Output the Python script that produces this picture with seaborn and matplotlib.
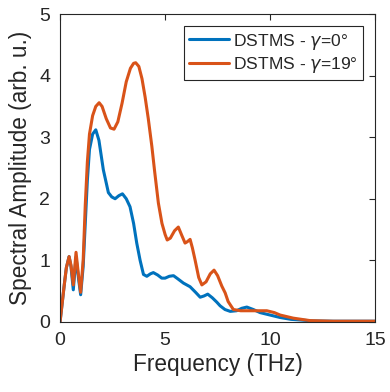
import numpy as np
import pandas as pd
import matplotlib
matplotlib.use("Agg")
import matplotlib.pyplot as plt
import seaborn as sns

freq_a = [0, 0.1, 0.2, 0.3, 0.43, 0.52, 0.63, 0.76, 0.88, 0.98, 1.1, 1.2, 1.3, 1.4, 1.55, 1.7, 1.85,
          2.06, 2.3, 2.46, 2.62, 2.8, 2.97, 3.15, 3.33, 3.5, 3.65, 3.81, 3.97, 4.13, 4.3, 4.44, 4.65,
          4.84, 5.0, 5.2, 5.4, 5.6, 5.87, 6.19, 6.45, 6.67, 6.85, 7.03, 7.25, 7.46, 7.62, 7.85, 8.1,
          8.4, 8.65, 8.89, 9.2, 9.52, 10.0, 10.48, 11.0, 11.43, 12.0, 13.0, 15.0]
amp_a = [0, 0.3, 0.6, 0.88, 1.06, 0.9, 0.52, 1.05, 0.7, 0.44, 0.9, 1.6, 2.3, 2.8, 3.05, 3.12, 2.95,
         2.47, 2.1, 2.03, 2.0, 2.05, 2.08, 2.0, 1.87, 1.6, 1.28, 1.0, 0.77, 0.74, 0.78, 0.80, 0.76,
         0.71, 0.71, 0.74, 0.75, 0.70, 0.63, 0.57, 0.48, 0.40, 0.42, 0.45, 0.39, 0.32, 0.26, 0.20, 0.17,
         0.18, 0.22, 0.24, 0.20, 0.15, 0.11, 0.07, 0.04, 0.03, 0.015, 0.01, 0.01]

freq_b = [0, 0.1, 0.2, 0.3, 0.43, 0.52, 0.63, 0.76, 0.88, 0.98, 1.1, 1.2, 1.3, 1.4, 1.55, 1.7, 1.86,
          2.0, 2.2, 2.4, 2.57, 2.75, 2.95, 3.15, 3.35, 3.5, 3.6, 3.75, 3.9, 4.05, 4.2, 4.37, 4.5,
          4.68, 4.85, 5.0, 5.1, 5.25, 5.45, 5.63, 5.8, 5.95, 6.05, 6.19, 6.3, 6.43, 6.6, 6.75, 6.95,
          7.15, 7.33, 7.5, 7.7, 7.86, 8.0, 8.25, 8.6, 9.05, 9.84, 10.2, 10.48, 11.1, 11.9, 13.0, 15.0]
amp_b = [0, 0.3, 0.6, 0.88, 1.06, 0.92, 0.6, 1.13, 0.75, 0.48, 1.0, 1.9, 2.6, 3.05, 3.35, 3.5, 3.56,
         3.5, 3.3, 3.15, 3.13, 3.25, 3.55, 3.9, 4.12, 4.2, 4.21, 4.15, 3.95, 3.65, 3.3, 2.85, 2.45,
         1.93, 1.6, 1.42, 1.33, 1.36, 1.48, 1.54, 1.4, 1.28, 1.3, 1.34, 1.2, 1.0, 0.72, 0.60, 0.65,
         0.78, 0.84, 0.75, 0.58, 0.47, 0.33, 0.20, 0.18, 0.18, 0.18, 0.15, 0.11, 0.06, 0.02, 0.01, 0.01]

labels = ["DSTMS - $\\gamma$=0°", "DSTMS - $\\gamma$=19°"]
colors = ["#0072BD", "#D95319"]

df = pd.concat([
    pd.DataFrame({"f": freq_a, "a": amp_a, "s": labels[0]}),
    pd.DataFrame({"f": freq_b, "a": amp_b, "s": labels[1]}),
], ignore_index=True)

sns.set_style("white")
plt.rcParams["font.family"] = ["Liberation Sans", "DejaVu Sans"]
plt.rcParams["mathtext.fontset"] = "dejavusans"

fig = plt.figure(figsize=(3.9, 3.92), dpi=100)
ax = fig.add_axes([0.154, 0.179, 0.808, 0.785])
sns.lineplot(data=df, x="f", y="a", hue="s", palette=colors, linewidth=2.2, ax=ax, sort=False)

ax.set_xlim(0, 15)
ax.set_ylim(0, 5)
ax.set_xticks([0, 5, 10, 15])
ax.set_yticks([0, 1, 2, 3, 4, 5])
ax.set_xlabel("Frequency (THz)", fontsize=16.3, color="#262626", labelpad=3)
ax.set_ylabel("Spectral Amplitude (arb. u.)", fontsize=16.3, color="#262626", labelpad=5)
ax.tick_params(direction="in", top=True, right=True, length=4, width=0.8,
               labelsize=14, colors="#262626", pad=7)
for sp in ax.spines.values():
    sp.set_visible(True)
    sp.set_color("#262626")
    sp.set_linewidth(0.8)

leg = ax.legend(loc="upper right", fontsize=12.6, frameon=True, fancybox=False,
                edgecolor="#262626", framealpha=1, borderpad=0.3, handlelength=2.3,
                handletextpad=0.2, labelspacing=0.2, borderaxespad=0.7)
leg.get_frame().set_linewidth(0.8)

fig.savefig("out.png", dpi=100)
